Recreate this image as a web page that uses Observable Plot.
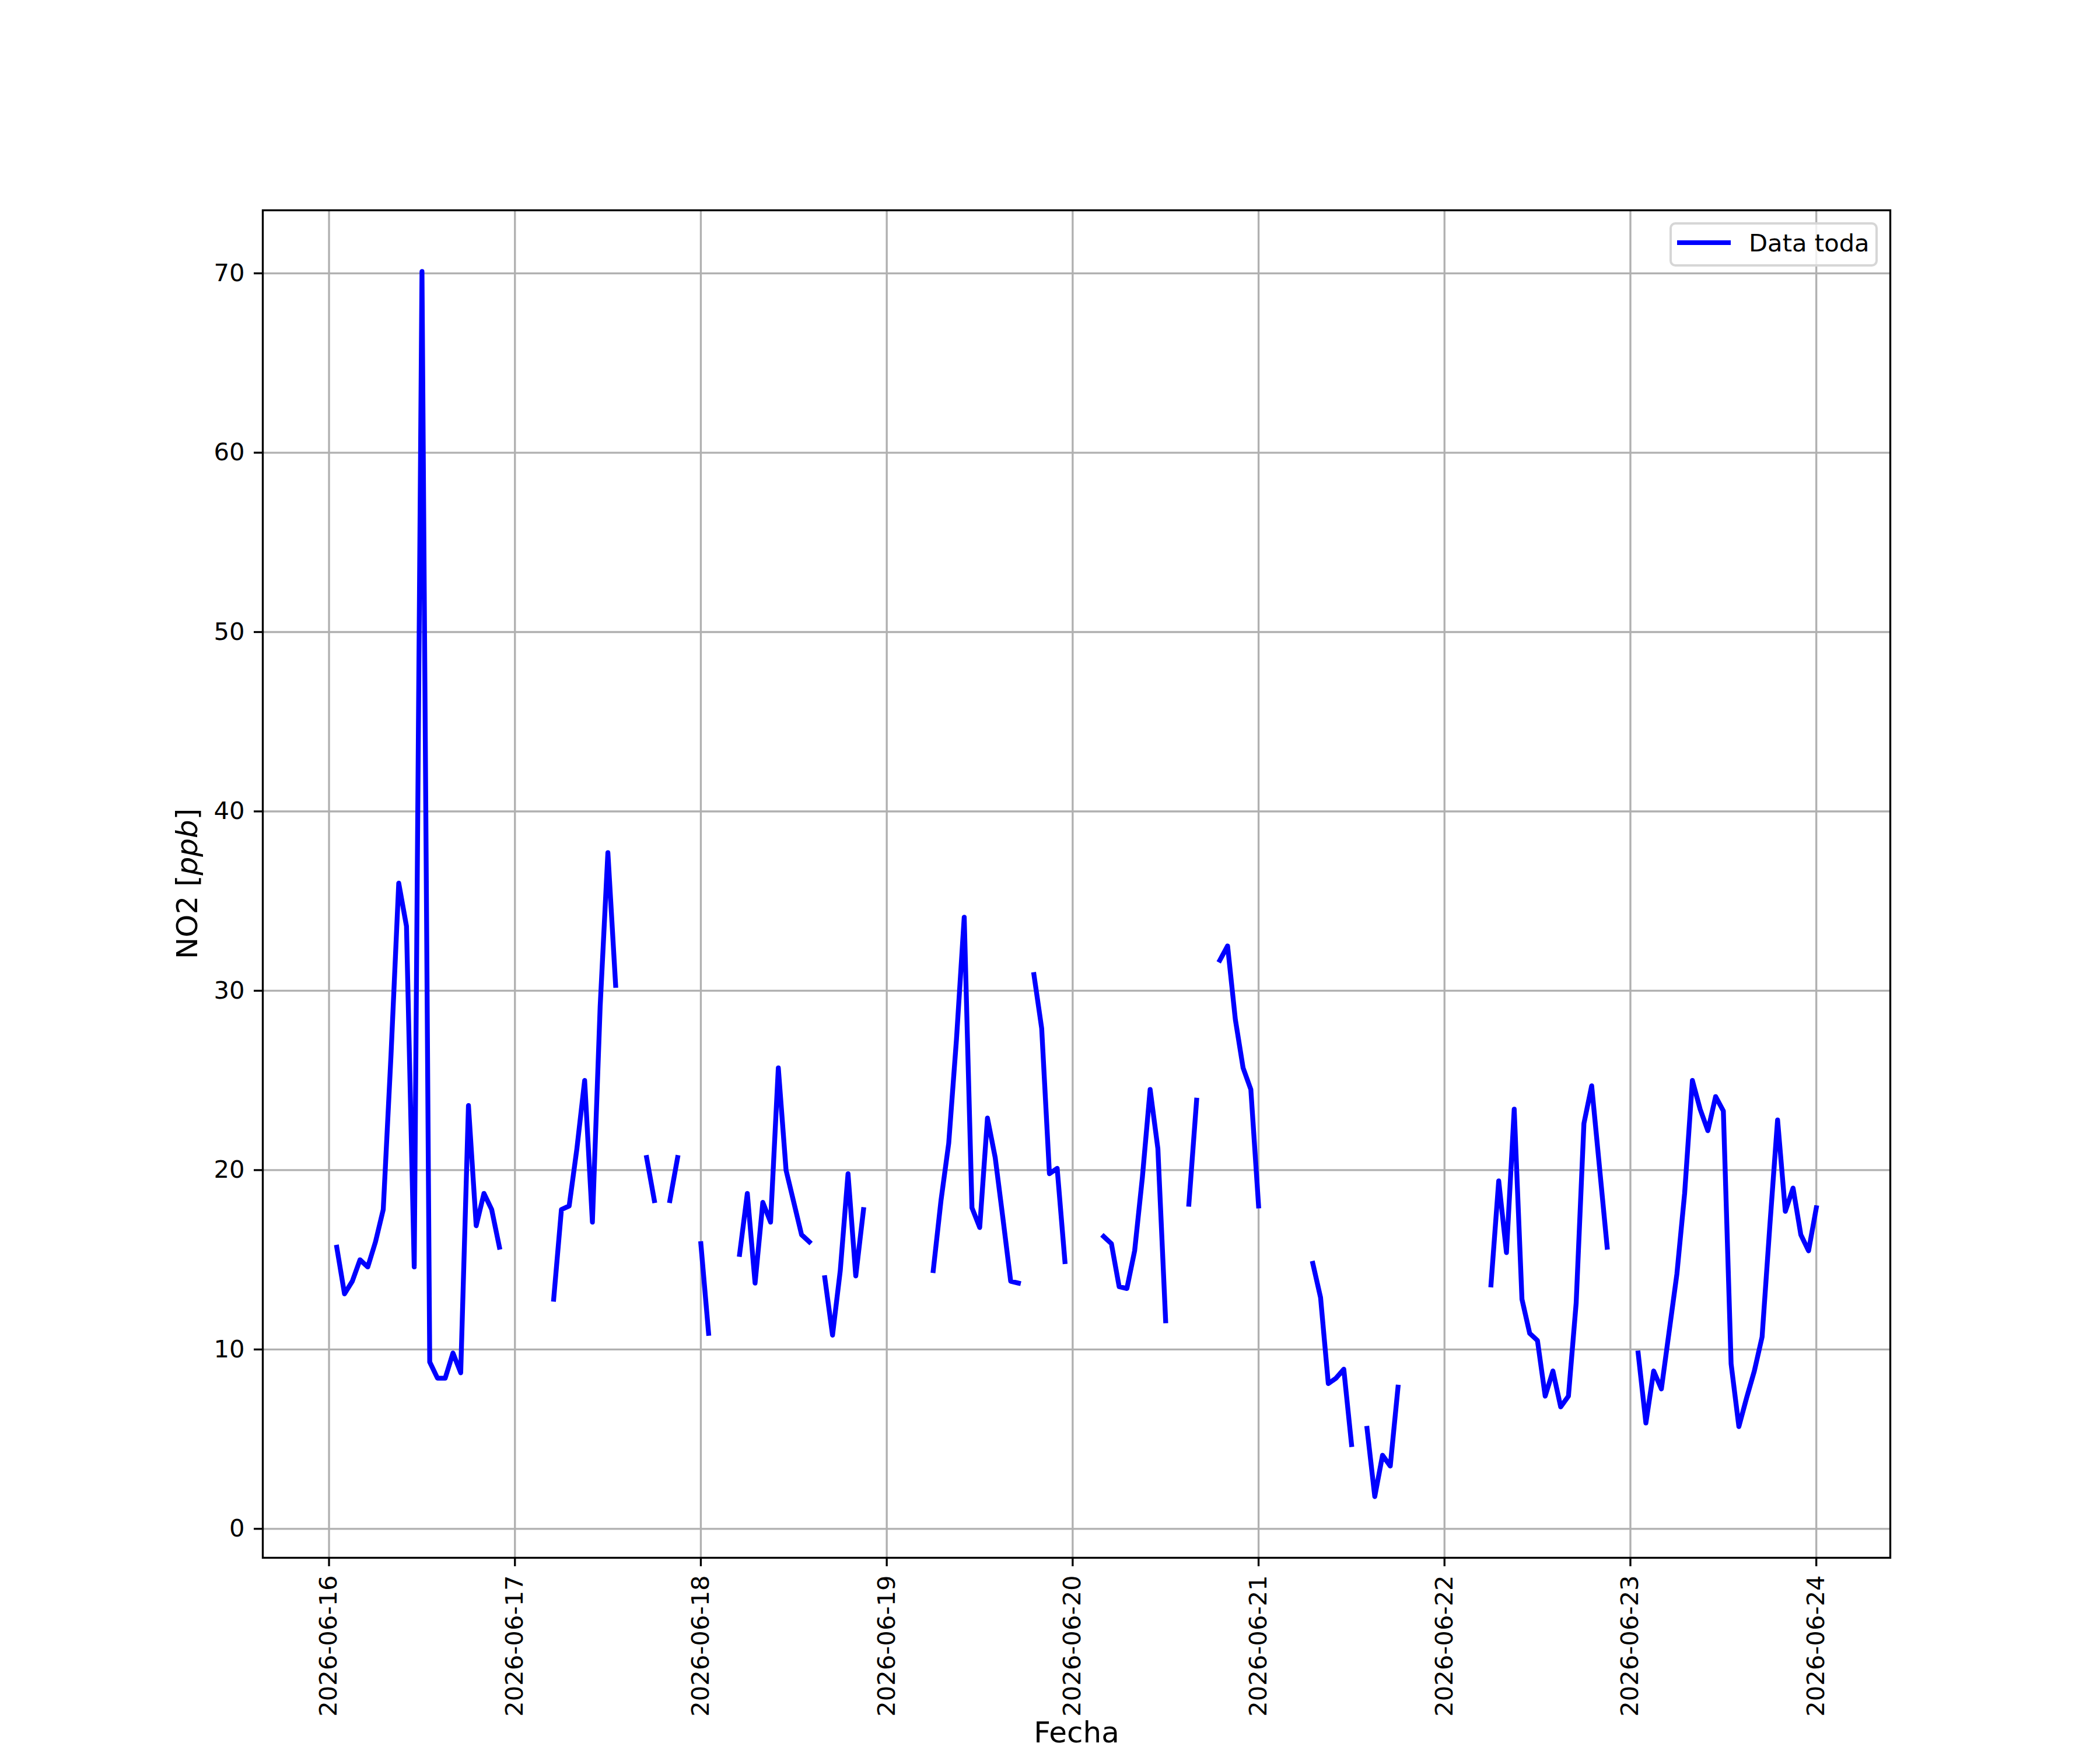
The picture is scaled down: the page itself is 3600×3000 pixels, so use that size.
<!DOCTYPE html>
<html>
<head>
<meta charset="utf-8">
<script src="https://cdn.jsdelivr.net/npm/d3@7"></script>
<script src="https://cdn.jsdelivr.net/npm/@observablehq/plot@0.6"></script>
<style>
  html, body { margin: 0; padding: 0; background: white; }
  #wrap { position: relative; width: 3600px; height: 3000px; font-family: "DejaVu Sans", sans-serif; }
  #legend { position: absolute; left: 2862px; top: 381px; width: 357px; height: 76px; box-sizing: border-box;
            border: 4.17px solid #d6d6d6; border-radius: 10px; background: rgba(255,255,255,0.8); }
  #legend .swatch { position: absolute; left: 9px; top: 26.8px; width: 92px; height: 8.33px; background: #0000ff; }
  #legend .lbl { position: absolute; left: 132px; top: 10.7px; font-size: 41.7px; line-height: 41.7px; color: black; white-space: nowrap; }
</style>
</head>
<body>
<div id="wrap"></div>
<script>
// Hourly NO2 values [ppb], index = hour of day (null = missing)
const day16 = [null, 15.7, 13.1, 13.8, 15.0, 14.6, 16.0, 17.8, 26.4, 36.0, 33.6, 14.6, 70.1, 9.3, 8.4, 8.4, 9.8, 8.7, 23.6, 16.9, 18.7, 17.8, 15.7, null];
const day17 = [null, null, null, null, null, 12.8, 17.8, 18.0, 21.2, 25.0, 17.1, 29.1, 37.7, 30.3, null, null, null, 20.7, 18.3, null, 18.3, 20.7, null, null];
const day18 = [15.9, 10.9, null, null, null, 15.3, 18.7, 13.7, 18.2, 17.1, 25.7, 20.0, 18.2, 16.4, 16.0, null, 14.0, 10.8, 14.4, 19.8, 14.1, 17.8, null, null];
const day19 = [null, null, null, null, null, null, 14.4, 18.3, 21.5, 27.3, 34.1, 17.9, 16.8, 22.9, 20.7, 17.3, 13.8, 13.7, null, 30.9, 27.9, 19.8, 20.1, 14.9];
const day20 = [null, null, null, null, 16.3, 15.9, 13.5, 13.4, 15.5, 19.6, 24.5, 21.2, 11.6, null, null, 18.1, 23.9, null, null, 31.7, 32.5, 28.4, 25.7, 24.5];
const day21 = [18.0, null, null, null, null, null, null, 14.8, 12.9, 8.1, 8.4, 8.9, 4.7, null, 5.6, 1.8, 4.1, 3.5, 7.9, null, null, null, null, null];
const day22 = [null, null, null, null, null, null, 13.6, 19.4, 15.4, 23.4, 12.8, 10.9, 10.5, 7.4, 8.8, 6.8, 7.4, 12.6, 22.6, 24.7, 20.2, 15.7, null, null];
const day23 = [null, 9.8, 5.9, 8.8, 7.8, 11.0, 14.2, 18.7, 25.0, 23.4, 22.2, 24.1, 23.3, 9.2, 5.7, 7.3, 8.8, 10.7, 16.9, 22.8, 17.7, 19.0, 16.4, 15.5];
const day24 = [17.9];

const dayLabels = ["2026-06-16", "2026-06-17", "2026-06-18", "2026-06-19", "2026-06-20", "2026-06-21", "2026-06-22", "2026-06-23", "2026-06-24"];
const yTicks = [0, 10, 20, 30, 40, 50, 60, 70];
const seriesName = "Data toda";
const xLabel = "Fecha";

const dayArrays = [day16, day17, day18, day19, day20, day21, day22, day23, day24];
const rows = [];
dayArrays.forEach((arr, d) => {
  const base = new Date(dayLabels[d] + "T00:00:00Z");
  arr.forEach((v, h) => {
    rows.push({date: new Date(base.getTime() + h * 3600e3), value: v == null ? NaN : v});
  });
});
const xTicks = dayLabels.map(s => new Date(s + "T00:00:00Z"));

// matplotlib-like 5% margins
const valid = rows.filter(r => !isNaN(r.value));
const tMin = d3.min(valid, r => +r.date), tMax = d3.max(valid, r => +r.date);
const vMin = d3.min(valid, r => r.value), vMax = d3.max(valid, r => r.value);
const tPad = (tMax - tMin) * 0.05, vPad = (vMax - vMin) * 0.05;

const font = "DejaVu Sans";
const chart = Plot.plot({
  width: 3600,
  height: 3000,
  marginLeft: 450,
  marginRight: 360,
  marginTop: 360,
  marginBottom: 330,
  style: {fontFamily: font, fontSize: "41.7px", background: "white", color: "black"},
  x: {type: "utc", domain: [new Date(tMin - tPad), new Date(tMax + tPad)], axis: null},
  y: {domain: [vMin - vPad, vMax + vPad], axis: null},
  marks: [
    Plot.ruleY(yTicks, {y: d => d, stroke: "#b0b0b0", strokeWidth: 3.33}),
    Plot.ruleX(xTicks, {x: d => d, stroke: "#b0b0b0", strokeWidth: 3.33}),
    Plot.line(rows, {x: "date", y: "value", stroke: "#0000ff", strokeWidth: 8.33, strokeLinecap: "square", strokeLinejoin: "round"}),
    Plot.frame({stroke: "black", strokeWidth: 3.33}),
    Plot.axisY({ticks: yTicks, tickSize: 15, tickPadding: 16, strokeWidth: 3.33, fontSize: 41.7, label: null, tickFormat: d => String(d)}),
    Plot.axisX({ticks: xTicks, tickSize: 15, strokeWidth: 3.33, label: null, tickFormat: () => ""}),
    Plot.text(xTicks, {x: d => d, frameAnchor: "bottom", dy: 30, rotate: -90, textAnchor: "end", lineAnchor: "middle",
      text: (d, i) => dayLabels[i], fontSize: 41.7, fill: "black"}),
    Plot.text([xLabel], {frameAnchor: "bottom", dy: 316, text: d => d, fontSize: 50, fill: "black"})
  ]
});

const wrap = document.getElementById("wrap");
wrap.appendChild(chart);

// y-axis label with italic unit (mathtext style)
const svg = d3.select(chart);
const yl = svg.append("text")
  .attr("transform", "translate(338,1515) rotate(-90)")
  .attr("text-anchor", "middle")
  .attr("font-family", font)
  .attr("font-size", 50)
  .attr("fill", "black");
yl.append("tspan").text("NO2 [");
yl.append("tspan").attr("font-style", "italic").text("ppb");
yl.append("tspan").text("]");

// legend (inside axes, upper right)
const legend = document.createElement("div");
legend.id = "legend";
legend.innerHTML = '<div class="swatch"></div><div class="lbl"></div>';
legend.querySelector(".lbl").textContent = seriesName;
wrap.appendChild(legend);
</script>
</body>
</html>
